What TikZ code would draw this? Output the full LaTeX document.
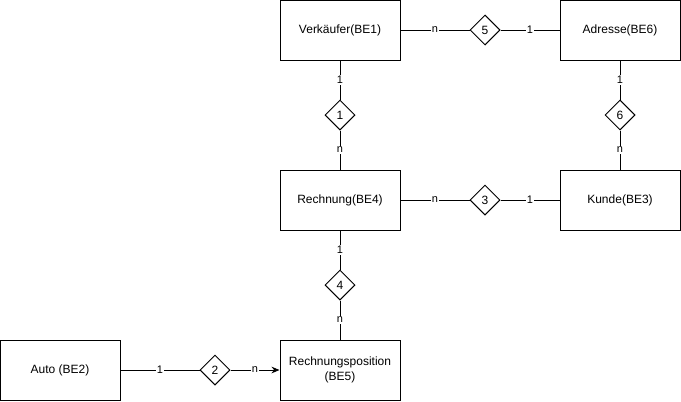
\documentclass[tikz,border=0pt]{standalone}
\usepackage{fontspec}
\setmainfont{Liberation Sans}
\usetikzlibrary{arrows.meta, shapes.geometric}

\begin{document}
\begin{tikzpicture}[
    x=0.75pt, y=-0.75pt,
    entity/.style={
        draw, rectangle, line width=0.75pt,
        minimum width=90pt, minimum height=45pt,
        align=center, font=\fontsize{9}{11}\selectfont
    },
    rel/.style={
        draw, diamond, aspect=1, inner sep=0pt, line width=0.75pt,
        minimum width=22.5pt, minimum height=22.5pt,
        font=\fontsize{9}{11}\selectfont
    },
    card/.style={fill=white, inner sep=1pt, font=\fontsize{8.25}{10}\selectfont},
    con/.style={line width=0.75pt},
    arr/.style={-{Stealth[length=6pt, width=5pt]}, line width=0.75pt}
]
\useasboundingbox (0,0) rectangle (681,401);

%% ---- Entities ----
\node[entity] at (340, 30)  (vk)   {Verkäufer(BE1)};
\node[entity] at (620, 30)  (adr)  {Adresse(BE6)};
\node[entity] at (340, 200) (rech) {Rechnung(BE4)};
\node[entity] at (620, 200) (kd)   {Kunde(BE3)};
\node[entity] at (340, 370) (rpos) {Rechnungsposition\\(BE5)};
\node[entity] at (60, 370)  (auto) {Auto (BE2)};

%% ---- Relationships ----
\node[rel] at (485, 30)  (r5) {5};
\node[rel] at (340, 115) (r1) {1};
\node[rel] at (620, 115) (r6) {6};
\node[rel] at (485, 200) (r3) {3};
\node[rel] at (340, 285) (r4) {4};
\node[rel] at (215, 370) (r2) {2};

%% ---- Connectors ----

% Verkaeufer - Adresse
\draw[con] (vk.east) -- node[card]{n} (r5.west);
\draw[con] (r5.east) -- node[card]{1} (adr.west);

% Verkaeufer - Rechnung
\draw[con] (vk.south) -- node[card]{1} (r1.north);
\draw[con] (r1.south) -- node[card]{n} (rech.north);

% Adresse - Kunde
\draw[con] (adr.south) -- node[card]{1} (r6.north);
\draw[con] (r6.south) -- node[card]{n} (kd.north);

% Rechnung - Kunde
\draw[con] (rech.east) -- node[card]{n} (r3.west);
\draw[con] (r3.east) -- node[card]{1} (kd.west);

% Rechnung - Rechnungsposition
\draw[con] (rech.south) -- node[card]{1} (r4.north);
\draw[con] (r4.south) -- node[card]{n} (rpos.north);

% Auto - Rechnungsposition
\draw[con] (auto.east) -- node[card]{1} (r2.west);
\draw[arr] (r2.east) -- node[card]{n} (rpos.west);

\end{tikzpicture}
\end{document}
